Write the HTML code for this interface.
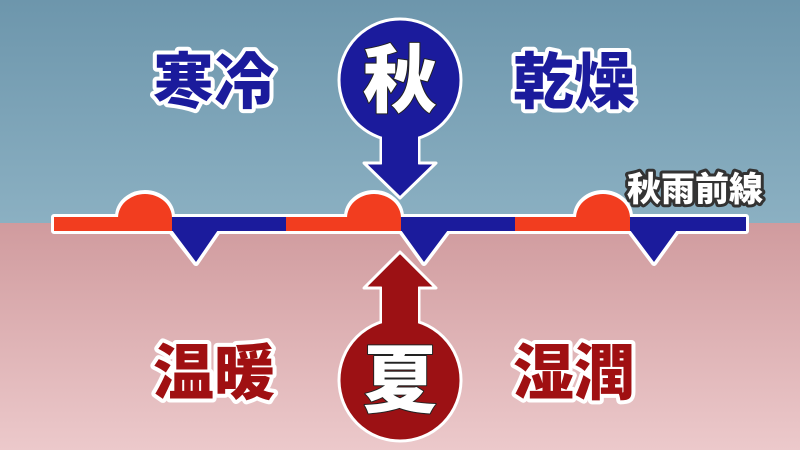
<!DOCTYPE html>
<html><head><meta charset="utf-8"><style>
html,body{margin:0;padding:0;width:800px;height:450px;overflow:hidden}
svg{display:block}
text{font-family:"Liberation Sans","Noto Sans CJK JP",sans-serif;font-weight:900;paint-order:stroke;stroke-linejoin:round}
</style></head><body>
<svg width="800" height="450" viewBox="0 0 800 450" xmlns="http://www.w3.org/2000/svg">
<defs>
<linearGradient id="sky" x1="0" y1="0" x2="0" y2="1"><stop offset="0" stop-color="#6d96ac"/><stop offset="1" stop-color="#8bb0c2"/></linearGradient>
<linearGradient id="ground" x1="0" y1="0" x2="0" y2="1"><stop offset="0" stop-color="#d09b9e"/><stop offset="1" stop-color="#ecc9cb"/></linearGradient>
</defs>
<rect x="0" y="0" width="800" height="223" fill="url(#sky)"/>
<rect x="0" y="223" width="800" height="227" fill="url(#ground)"/>

<g fill="#fff" stroke="#fff" stroke-width="6" stroke-linejoin="round">
<rect x="54" y="217" width="692" height="14"/>
<path d="M118 217 A27 24 0 0 1 172 217Z M347 217 A27 24 0 0 1 401 217Z M576 217 A27 24 0 0 1 630 217Z"/>
<path d="M171 231 L218 231 L196 263Z M401 231 L448 231 L424 263Z M630 231 L677 231 L654 263Z"/>
</g>
<g>
<rect x="54" y="217" width="118" height="14" fill="#f23d1f"/>
<rect x="172" y="217" width="114" height="14" fill="#1b1b9c"/>
<rect x="286" y="217" width="115" height="14" fill="#f23d1f"/>
<rect x="401" y="217" width="114" height="14" fill="#1b1b9c"/>
<rect x="515" y="217" width="115" height="14" fill="#f23d1f"/>
<rect x="630" y="217" width="116" height="14" fill="#1b1b9c"/>
<path d="M118 218 A27 24 0 0 1 172 218Z M347 218 A27 24 0 0 1 401 218Z M576 218 A27 24 0 0 1 630 218Z" fill="#f23d1f"/>
<path d="M172 230 L218 230 L196 262Z M401 230 L448 230 L424 262Z M630 230 L677 230 L654 262Z" fill="#1b1b9c"/>
</g>

<path d="M381 130 L381 163 L364 163 L400 198 L436 163 L419 163 L419 130Z" fill="#1b1b9c" stroke="#fff" stroke-width="3" stroke-linejoin="round"/>
<circle cx="400" cy="80" r="61" fill="#1b1b9c" stroke="#fff" stroke-width="3"/>
<rect x="382" y="130" width="36" height="36" fill="#1b1b9c"/>
<text x="400" y="106" font-size="74" text-anchor="middle" fill="#fff" stroke="#222" stroke-width="2">秋</text>

<path d="M381 330 L381 288 L364 288 L400 252 L436 288 L419 288 L419 330Z" fill="#9c1114" stroke="#fff" stroke-width="3" stroke-linejoin="round"/>
<circle cx="400" cy="380" r="61" fill="#9c1114" stroke="#fff" stroke-width="3"/>
<rect x="382" y="285" width="36" height="40" fill="#9c1114"/>
<text x="400" y="406" font-size="74" text-anchor="middle" fill="#fff" stroke="#222" stroke-width="2">夏</text>

<g font-size="61" stroke="#fff" stroke-width="8">
<text x="153" y="103" fill="#1b1b9c">寒冷</text>
<text x="513" y="103" fill="#1b1b9c">乾燥</text>
<text x="153" y="394" fill="#a01012">温暖</text>
<text x="513" y="394" fill="#a01012">湿潤</text>
</g>
<text x="627" y="201" font-size="34" fill="#fff" stroke="#333" stroke-width="6">秋雨前線</text>
</svg>
</body></html>
